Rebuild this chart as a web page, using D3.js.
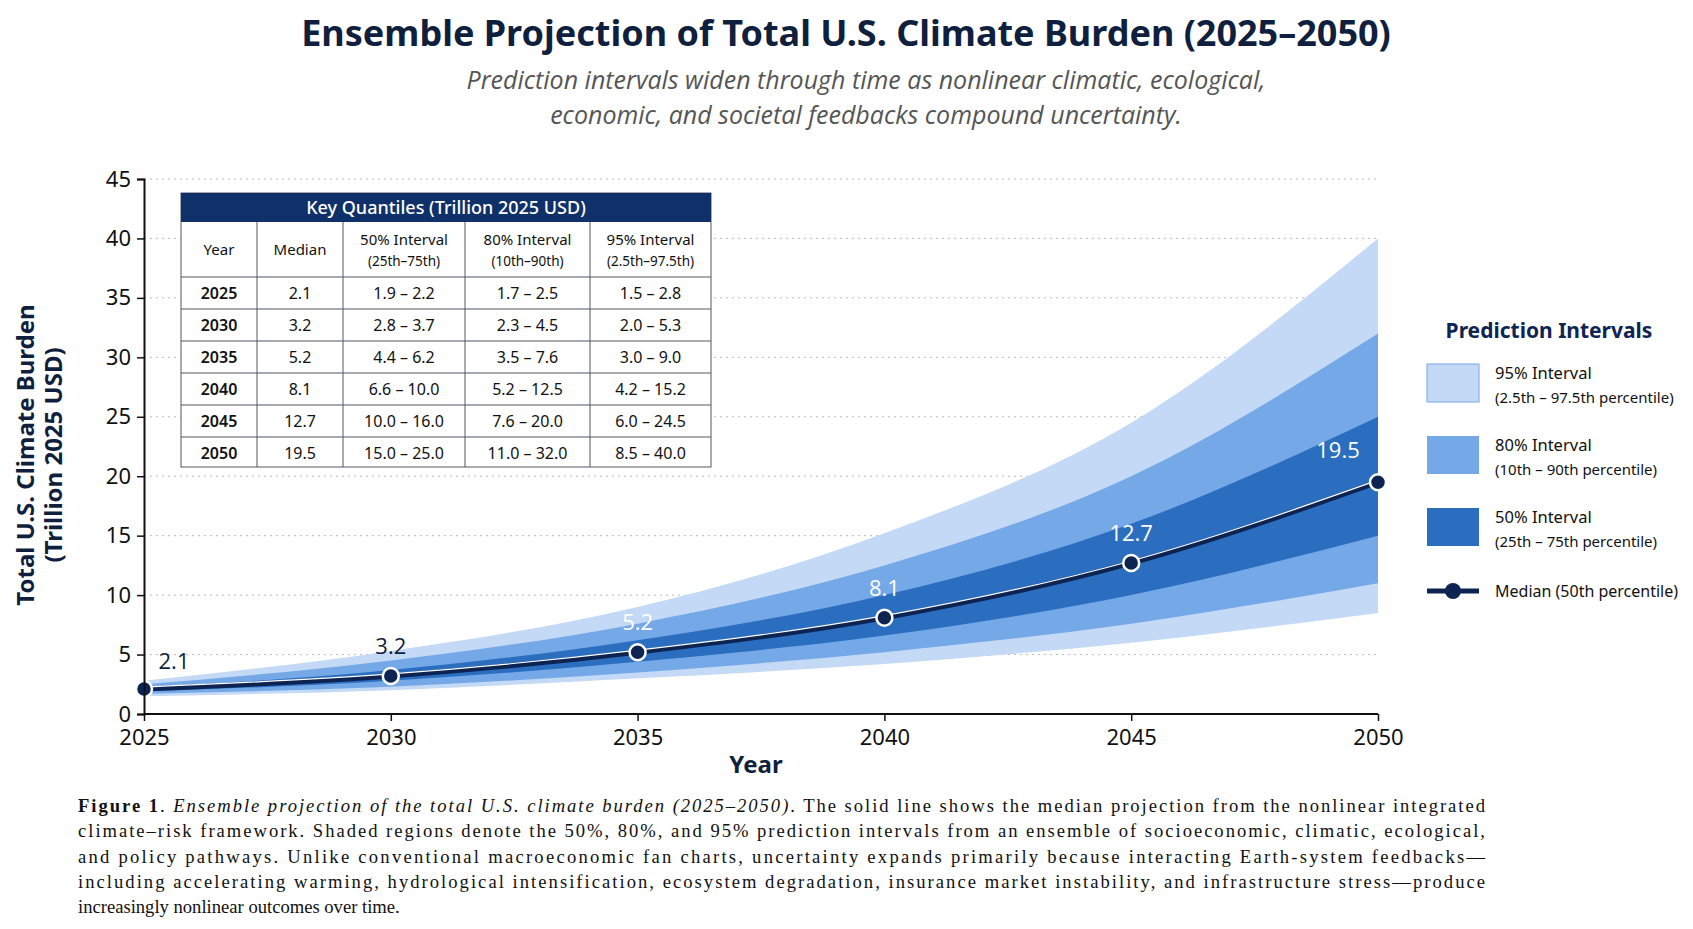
<!DOCTYPE html>
<html><head><meta charset="utf-8">
<script src="https://cdn.jsdelivr.net/npm/d3@7"></script>
<style>body{margin:0;background:#fff}svg{display:block}</style></head>
<body><svg id="c" width="1693" height="929"></svg>
<script>
const years=[2025,2030,2035,2040,2045,2050];
const median=[2.1,3.2,5.2,8.1,12.7,19.5];
const p25=[1.9,2.8,4.4,6.6,10.0,15.0];
const p75=[2.2,3.7,6.2,10.0,16.0,25.0];
const p10=[1.7,2.3,3.5,5.2,7.6,11.0];
const p90=[2.5,4.5,7.6,12.5,20.0,32.0];
const p025=[1.5,2.0,3.0,4.2,6.0,8.5];
const p975=[2.8,5.3,9.0,15.2,24.5,40.0];
const yTicks=[0,5,10,15,20,25,30,35,40,45];
const legendItems=[["95% Interval","(2.5th – 97.5th percentile)"],["80% Interval","(10th – 90th percentile)"],["50% Interval","(25th – 75th percentile)"]];
const tableHead=[["Year"],["Median"],["50% Interval","(25th–75th)"],["80% Interval","(10th–90th)"],["95% Interval","(2.5th–97.5th)"]];
const fmt=v=>v.toFixed(1);

const svg=d3.select("#c");
const F="'Open Sans','Noto Sans',sans-serif";
const x=d3.scaleLinear().domain([2025,2050]).range([144,1378]);
const y=d3.scaleLinear().domain([0,45]).range([714,179]);
const col={c95:"#c3d9f6",c80:"#75a8e7",c50:"#2b6ec0",med:"#0d2452"};

svg.append("text").attr("x",846).attr("y",46).attr("text-anchor","middle").attr("font-family","'Noto Sans',sans-serif").attr("font-weight",700).attr("font-size",36).attr("fill","#0f1f3d").text("Ensemble Projection of Total U.S. Climate Burden (2025–2050)");
["Prediction intervals widen through time as nonlinear climatic, ecological,","economic, and societal feedbacks compound uncertainty."].forEach((t,i)=>
 svg.append("text").attr("x",866).attr("y",89+i*35).attr("text-anchor","middle").attr("font-family",F).attr("font-style","italic").attr("font-size",25).attr("fill","#555").text(t));

svg.append("g").selectAll("line").data(yTicks.slice(1)).join("line")
 .attr("x1",144).attr("x2",1378).attr("y1",d=>y(d)).attr("y2",d=>y(d))
 .attr("stroke","#bbb").attr("stroke-dasharray","2,4");

const area=(lo,hi)=>d3.area().x((d,i)=>x(years[i])).y0((d,i)=>y(lo[i])).y1((d,i)=>y(hi[i])).curve(d3.curveMonotoneX)(years);
svg.append("path").attr("d",area(p025,p975)).attr("fill",col.c95);
svg.append("path").attr("d",area(p10,p90)).attr("fill",col.c80);
svg.append("path").attr("d",area(p25,p75)).attr("fill",col.c50);

const line=d3.line().x((d,i)=>x(years[i])).y(d=>y(d)).curve(d3.curveMonotoneX);
svg.append("path").attr("d",line(median)).attr("fill","none").attr("stroke",col.med).attr("stroke-width",5);
svg.append("path").attr("d",line(median)).attr("fill","none").attr("stroke","#fff").attr("stroke-width",1.2).attr("transform","translate(0,-2)");
svg.append("g").selectAll("circle").data(median).join("circle")
 .attr("cx",(d,i)=>x(years[i])).attr("cy",d=>y(d)).attr("r",8)
 .attr("fill",col.med).attr("stroke","#fff").attr("stroke-width",2.5);
svg.append("g").selectAll("text").data(median).join("text")
 .attr("x",(d,i)=>x(years[i])+(i==0?30:i==5?-40:0)).attr("y",(d,i)=>y(d)-(i==0?20:i==5?24:22))
 .attr("text-anchor","middle").attr("font-family",F).attr("font-size",22).attr("font-weight",500)
 .attr("fill",(d,i)=>i<2?"#0f1f3d":"#fff").text(d=>fmt(d));

const ya=svg.append("g").attr("transform","translate(144,0)").call(d3.axisLeft(y).tickValues(yTicks).tickSize(7).tickPadding(6));
const xa=svg.append("g").attr("transform","translate(0,714)").call(d3.axisBottom(x).tickValues(years).tickFormat(d3.format("d")).tickSize(7).tickPadding(8));
[ya,xa].forEach(a=>{a.select(".domain").attr("stroke","#111").attr("stroke-width",2);a.selectAll(".tick line").attr("stroke","#111").attr("stroke-width",1.5);a.selectAll("text").attr("font-family","'Noto Sans',sans-serif").attr("font-size",22).attr("fill","#111");});
xa.select(".domain").attr("d","M144,0H1378");
svg.append("text").attr("x",756).attr("y",773).attr("text-anchor","middle").attr("font-family","'Noto Sans',sans-serif").attr("font-weight",700).attr("font-size",24).attr("fill","#0f1f3d").text("Year");
const yl=svg.append("text").attr("transform","translate(34,455) rotate(-90)").attr("text-anchor","middle").attr("font-family","'Noto Sans',sans-serif").attr("font-weight",700).attr("font-size",24).attr("fill","#0f1f3d");
yl.append("tspan").attr("x",0).attr("dy",0).text("Total U.S. Climate Burden");
yl.append("tspan").attr("x",0).attr("dy",28).text("(Trillion 2025 USD)");

const cx=[181,257,343,465,590,711];
const T=svg.append("g").attr("font-family","'Noto Sans',sans-serif").attr("fill","#111");
T.append("rect").attr("x",181).attr("y",193).attr("width",530).attr("height",274).attr("fill","#fff").attr("stroke","#556").attr("stroke-width",1);
T.append("rect").attr("x",181).attr("y",193).attr("width",530).attr("height",29).attr("fill","#10306a");
T.append("text").attr("x",446).attr("y",214).attr("text-anchor","middle").attr("font-size",18).attr("font-weight",500).attr("fill","#fff").text("Key Quantiles (Trillion 2025 USD)");
const rowY=[222,277,309,341,373,405,437,467];
rowY.slice(1,-1).forEach(yy=>T.append("line").attr("x1",181).attr("x2",711).attr("y1",yy).attr("y2",yy).attr("stroke","#556"));
cx.slice(1,-1).forEach(xx=>T.append("line").attr("x1",xx).attr("x2",xx).attr("y1",222).attr("y2",467).attr("stroke","#556"));
tableHead.forEach((h,j)=>{const m=(cx[j]+cx[j+1])/2;
 if(h.length==1)T.append("text").attr("x",m).attr("y",255).attr("text-anchor","middle").attr("font-size",15).text(h[0]);
 else h.forEach((t,k)=>T.append("text").attr("x",m).attr("y",245+k*21).attr("text-anchor","middle").attr("font-size",k?13.5:15).text(t));});
years.forEach((yr,i)=>{const cells=[yr,fmt(median[i]),fmt(p25[i])+" – "+fmt(p75[i]),fmt(p10[i])+" – "+fmt(p90[i]),fmt(p025[i])+" – "+fmt(p975[i])];
 cells.forEach((c,j)=>T.append("text").attr("x",(cx[j]+cx[j+1])/2).attr("y",rowY[i+1]+22).attr("text-anchor","middle").attr("font-size",16).attr("font-weight",j==0?600:400).text(c));});

const L=svg.append("g").attr("font-family","'Noto Sans',sans-serif").attr("fill","#111");
L.append("text").attr("x",1549).attr("y",338).attr("text-anchor","middle").attr("font-size",21).attr("font-weight",700).attr("fill","#0f2452").text("Prediction Intervals");
const sw=[col.c95,col.c80,col.c50];
legendItems.forEach((it,i)=>{const yy=364+i*72;
 L.append("rect").attr("x",1427).attr("y",yy).attr("width",52).attr("height",38).attr("fill",sw[i]).attr("stroke",i==0?"#75a8e7":"none");
 L.append("text").attr("x",1495).attr("y",yy+15).attr("font-size",16.5).text(it[0]);
 L.append("text").attr("x",1495).attr("y",yy+39).attr("font-size",15).text(it[1]);});
L.append("line").attr("x1",1427).attr("x2",1479).attr("y1",591).attr("y2",591).attr("stroke",col.med).attr("stroke-width",5);
L.append("circle").attr("cx",1453).attr("cy",591).attr("r",8).attr("fill",col.med);
L.append("text").attr("x",1495).attr("y",597).attr("font-size",16).text("Median (50th percentile)");

const cap=[
 [["b","Figure 1"],["n",". "],["i","Ensemble projection of the total U.S. climate burden (2025–2050)"],["n",". The solid line shows the median projection from the nonlinear integrated"]],
 [["n","climate–risk framework. Shaded regions denote the 50%, 80%, and 95% prediction intervals from an ensemble of socioeconomic, climatic, ecological,"]],
 [["n","and policy pathways. Unlike conventional macroeconomic fan charts, uncertainty expands primarily because interacting Earth-system feedbacks—"]],
 [["n","including accelerating warming, hydrological intensification, ecosystem degradation, insurance market instability, and infrastructure stress—produce"]],
 [["n","increasingly nonlinear outcomes over time."]]];
cap.forEach((ln,i)=>{const t=svg.append("text").attr("x",78).attr("y",812+i*25.3).attr("font-family","'Liberation Serif','DejaVu Serif',serif").attr("font-size",18.6).attr("fill","#111");
 if(i<4)t.attr("textLength",1407);
 ln.forEach(([s,v])=>t.append("tspan").attr("font-weight",s=="b"?700:400).attr("font-style",s=="i"?"italic":"normal").text(v));});
</script></body></html>
